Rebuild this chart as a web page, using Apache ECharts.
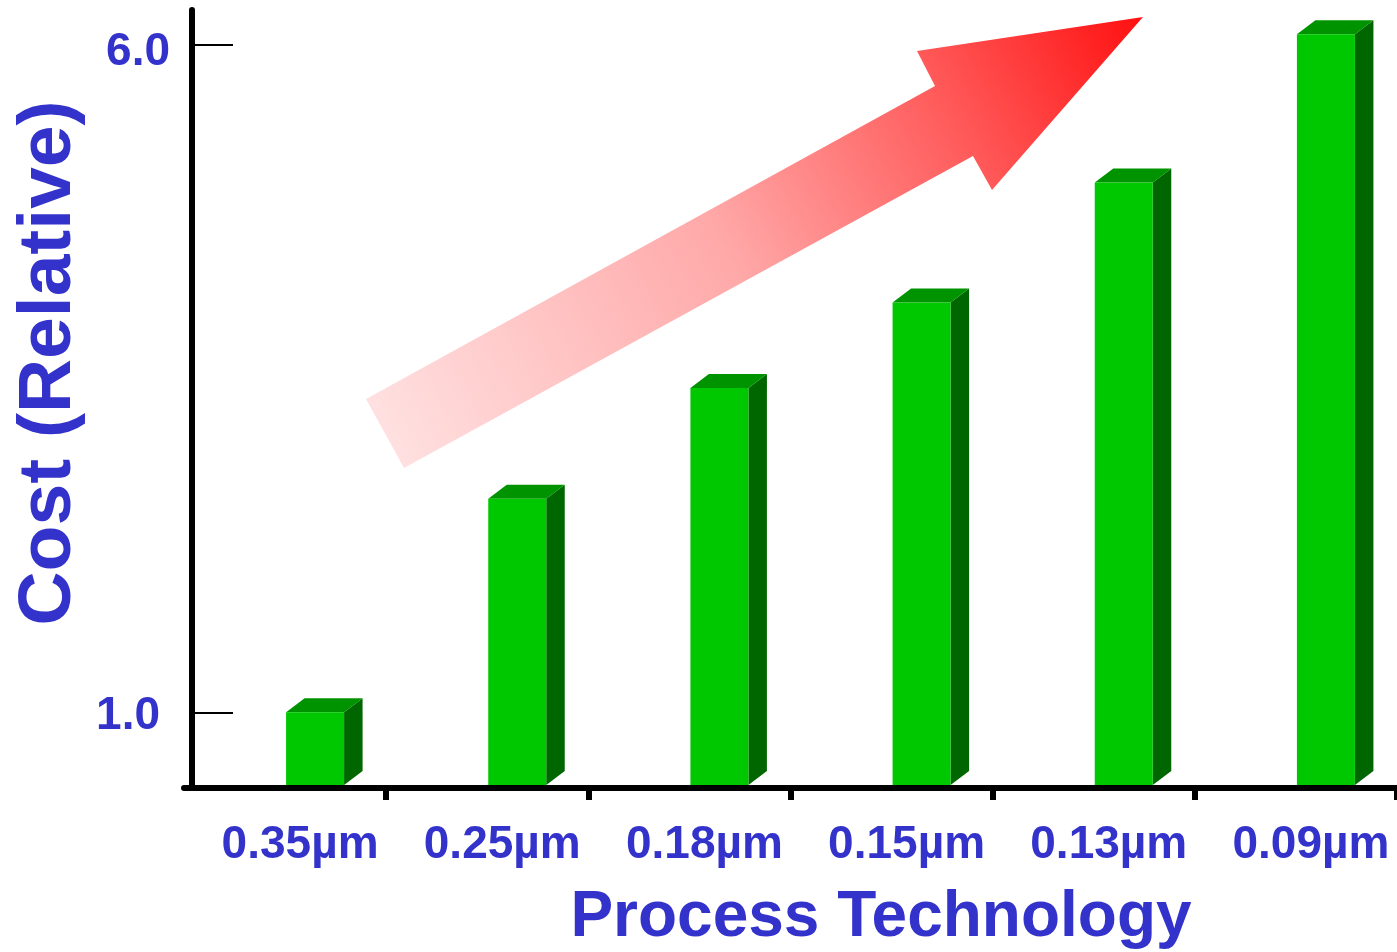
<!DOCTYPE html>
<html>
<head>
<meta charset="utf-8">
<title>Cost (Relative) by Process Technology</title>
<script src="https://cdn.jsdelivr.net/npm/echarts@6/dist/echarts.min.js"></script>
<style>
  html, body { margin: 0; padding: 0; background: #ffffff; }
  #chart { width: 1397px; height: 952px; }
</style>
</head>
<body>
<div id="chart"></div>
<script>
// Process nodes and their relative cost
const categories = ['0.35µm', '0.25µm', '0.18µm', '0.15µm', '0.13µm', '0.09µm'];
const costValues = [1.0, 2.6, 3.43, 4.07, 4.97, 6.08];
const yTickValues = [1, 6];
const yTickLabels = ['1.0', '6.0'];

const BLUE = '#3333CC';
const FONT = '"Liberation Sans", Arial, Helvetica, sans-serif';
const FRONT = '#00C800';
const TOP = '#009300';
const SIDE = '#006600';
const Y_MIN = 0.433;
const Y_MAX = 6.262;

const chart = echarts.init(document.getElementById('chart'), null, { renderer: 'canvas' });

// Box-shaped bar: front face, top face and right side face
function renderBox(params, api) {
  const topPt = api.coord([api.value(0), api.value(1)]);
  const basePt = api.coord([api.value(0), Y_MIN]);
  const w = 58, dx = 18.5, dy = 14;
  const xl = topPt[0] + 1;
  const top = topPt[1];
  const bot = basePt[1] - 3;
  return {
    type: 'group',
    children: [
      {
        type: 'polygon',
        shape: { points: [[xl + w, top], [xl + w + dx, top - dy], [xl + w + dx, bot - dy], [xl + w, bot]] },
        style: { fill: SIDE }
      },
      {
        type: 'polygon',
        shape: { points: [[xl, top], [xl + dx, top - dy], [xl + w + dx, top - dy], [xl + w, top]] },
        style: { fill: TOP }
      },
      {
        type: 'rect',
        shape: { x: xl, y: top, width: w, height: bot - top },
        style: { fill: FRONT }
      }
    ]
  };
}

const option = {
  backgroundColor: '#ffffff',
  animation: false,
  grid: { left: 184, right: 0, top: 10, bottom: 164, containLabel: false },
  xAxis: {
    type: 'category',
    data: categories,
    boundaryGap: true,
    axisLine: { show: true, lineStyle: { color: '#000', width: 6 } },
    axisTick: {
      show: true,
      length: 12,
      interval: function (index) { return index !== 0; },
      lineStyle: { color: '#000', width: 6 }
    },
    axisLabel: {
      interval: 0,
      margin: 34,
      color: BLUE,
      fontFamily: FONT,
      fontWeight: 'bold',
      fontSize: 46,
      lineHeight: 46,
      padding: [0, 0, 0, 30]
    },
    splitLine: { show: false }
  },
  yAxis: {
    type: 'value',
    min: Y_MIN,
    max: Y_MAX,
    offset: -8,
    axisLine: { show: true, lineStyle: { color: '#000', width: 6 } },
    axisTick: {
      show: true,
      inside: true,
      length: 41,
      customValues: yTickValues,
      lineStyle: { color: '#000', width: 2 }
    },
    axisLabel: {
      show: true,
      customValues: yTickValues,
      margin: 22,
      formatter: function (v) {
        const i = yTickValues.indexOf(Math.round(v));
        const text = i >= 0 ? yTickLabels[i] : '';
        return Math.round(v) === 1 ? '{lo|' + text + '}' : '{hi|' + text + '}';
      },
      rich: {
        hi: { color: BLUE, fontFamily: FONT, fontWeight: 'bold', fontSize: 46, lineHeight: 46, padding: [14, 0, 0, 0] },
        lo: { color: BLUE, fontFamily: FONT, fontWeight: 'bold', fontSize: 46, lineHeight: 46, padding: [8, 10, 0, 0] }
      }
    },
    splitLine: { show: false }
  },
  series: [
    {
      type: 'custom',
      renderItem: renderBox,
      data: costValues.map((v, i) => [i, v]),
      encode: { x: 0, y: 1 },
      z: 3
    }
  ],
  graphic: [
    // Rising trend arrow
    {
      type: 'polygon',
      z: 1,
      shape: {
        points: [[366, 399], [935, 86], [917, 51], [1143, 17], [992, 190], [973, 156], [404, 468]]
      },
      style: {
        fill: {
          type: 'linear',
          x: 385, y: 434, x2: 1143, y2: 17,
          global: true,
          colorStops: [
            { offset: 0, color: '#FFE0E0' },
            { offset: 0.45, color: '#FFA8A8' },
            { offset: 0.75, color: '#FF5A5A' },
            { offset: 1, color: '#FF1010' }
          ]
        }
      }
    },
    {
      type: 'text',
      z: 5,
      x: 49,
      y: 363,
      rotation: Math.PI / 2,
      style: {
        text: 'Cost (Relative)',
        fill: BLUE,
        font: 'bold 75px ' + FONT,
        textAlign: 'center',
        textVerticalAlign: 'middle'
      }
    },
    {
      type: 'text',
      z: 5,
      x: 881,
      y: 918,
      style: {
        text: 'Process Technology',
        fill: BLUE,
        font: 'bold 64px ' + FONT,
        textAlign: 'center',
        textVerticalAlign: 'middle'
      }
    }
  ]
};

chart.setOption(option);
</script>
</body>
</html>
